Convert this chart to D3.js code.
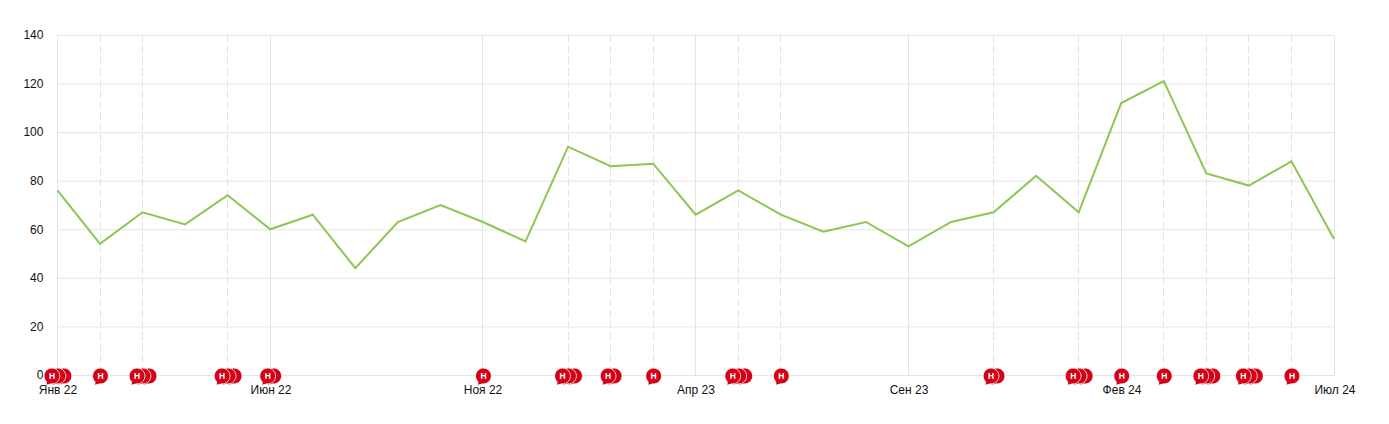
<!DOCTYPE html>
<html>
<head>
<meta charset="utf-8">
<script src="https://cdn.jsdelivr.net/npm/d3@7"></script>
<style>
  html, body { margin: 0; background: #fff; }
  text { font-family: "Liberation Sans", Arial, sans-serif; font-size: 12px; fill: #111; }
  .domain { display: none; }
</style>
</head>
<body>
<div id="chart"></div>
<script>
const months = [
  "Янв 22", "Фев 22", "Мар 22", "Апр 22", "Май 22", "Июн 22", "Июл 22", "Авг 22", "Сен 22", "Окт 22", "Ноя 22", "Дек 22",
  "Янв 23", "Фев 23", "Мар 23", "Апр 23", "Май 23", "Июн 23", "Июл 23", "Авг 23", "Сен 23", "Окт 23", "Ноя 23", "Дек 23",
  "Янв 24", "Фев 24", "Мар 24", "Апр 24", "Май 24", "Июн 24", "Июл 24"
];
const values = [76, 54, 67, 62, 74, 60, 66, 44, 63, 70, 63, 55, 94, 86, 87, 66, 76, 66, 59, 63, 53, 63, 67, 82, 67, 112, 121, 83, 78, 88, 56];
const monthLabels = ["Янв 22", "Июн 22", "Ноя 22", "Апр 23", "Сен 23", "Фев 24", "Июл 24"];
const yTicks = [0, 20, 40, 60, 80, 100, 120, 140];

// news flags per month, stacked bubbles
const flagMonths = ["Янв 22", "Фев 22", "Мар 22", "Май 22", "Июн 22", "Ноя 22", "Янв 23", "Фев 23", "Мар 23", "Май 23", "Июн 23", "Ноя 23", "Янв 24", "Фев 24", "Мар 24", "Апр 24", "Май 24", "Июн 24"];
const flagCounts = [3, 1, 3, 3, 2, 1, 3, 2, 1, 3, 1, 2, 3, 1, 1, 3, 3, 1];

const width = 1389;
const height = 424;
const margin = { top: 35, right: 55, bottom: 49, left: 57.45 };
const gridColor = "#e4e4e4";

const x = d3.scalePoint().domain(months).range([margin.left, width - margin.right]);
const y = d3.scaleLinear().domain([0, 140]).range([height - margin.bottom, margin.top]);
// grid lines sit on whole pixels
const gridX = (m) => Math.floor(x(m)) + 0.5;

const svg = d3.select("#chart").append("svg").attr("width", width).attr("height", height).style("display", "block");

// horizontal grid + y labels
const yAxis = svg.append("g")
  .attr("transform", `translate(${margin.left},0)`)
  .call(d3.axisLeft(y).tickValues(yTicks).tickSize(-(width - margin.left - margin.right)).tickPadding(14));
yAxis.selectAll(".tick line").attr("stroke", gridColor);

// dashed lines for flagged months that have no label
const plainFlagMonths = flagMonths.filter((m) => !monthLabels.includes(m));
svg.append("g")
  .selectAll("line")
  .data(plainFlagMonths)
  .join("line")
  .attr("x1", gridX)
  .attr("x2", gridX)
  .attr("y1", y(140))
  .attr("y2", y(0))
  .attr("stroke", gridColor)
  .attr("stroke-dasharray", "8,3");

// vertical grid + x labels
const xAxis = svg.append("g")
  .attr("transform", `translate(0,${y(0) + 0.5})`)
  .call(d3.axisBottom(x).tickValues(monthLabels).tickSize(-(y(0) - y(140))).tickPadding(10));
xAxis.selectAll(".tick").attr("transform", (d) => `translate(${gridX(d)},0)`);
xAxis.selectAll(".tick line").attr("stroke", gridColor);
xAxis.selectAll(".tick text").attr("dx", 0.5);

const line = d3.line().x((d, i) => x(months[i])).y((d) => y(d));
svg.append("path")
  .datum(values)
  .attr("d", line)
  .attr("fill", "none")
  .attr("stroke", "#8cc653")
  .attr("stroke-width", 2);

// bubbles, drawn back to front so the leftmost one is on top
const flags = flagMonths.flatMap((m, i) =>
  d3.range(flagCounts[i] - 1, -1, -1).map((k) => ({ month: m, k, count: flagCounts[i] }))
);
const flag = svg.append("g")
  .selectAll("g")
  .data(flags)
  .join("g")
  .attr("transform", (d) => `translate(${x(d.month) + (d.k - (d.count - 1) / 2) * 6 + 0.5},${y(0) + 1})`);

flag.append("path")
  .attr("d", "M-5.6,5.6A7.9,7.9 0 1 1 -0.8,7.86L-6,9.3Q-5.2,7.6 -5.6,5.6Z")
  .attr("fill", "#d40015")
  .attr("stroke", "#fff")
  .attr("stroke-width", 0.8);

flag.filter((d) => d.k === 0)
  .append("text")
  .attr("text-anchor", "middle")
  .attr("y", 3)
  .style("font-size", "8.5px")
  .style("font-weight", "bold")
  .style("fill", "#fff")
  .text("Н");
</script>
</body>
</html>
